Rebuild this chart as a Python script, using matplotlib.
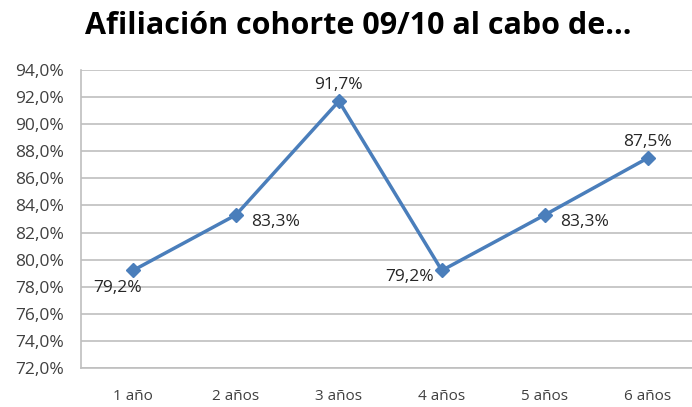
import matplotlib
matplotlib.use("Agg")
import matplotlib.pyplot as plt
from matplotlib.ticker import FuncFormatter

categories = ["1 año", "2 años", "3 años", "4 años", "5 años", "6 años"]
values = [79.2, 83.3, 91.7, 79.2, 83.3, 87.5]
yticks = [72, 74, 76, 78, 80, 82, 84, 86, 88, 90, 92, 94]
label_pos = ["below_left", "right", "above", "left", "right", "above"]

plt.rcParams['font.family'] = ['Open Sans', 'DejaVu Sans']

fig = plt.figure(figsize=(6.92, 4.07), dpi=100)
ax = fig.add_axes([81/692, 1-368/407, 1-81/692, (368-70)/407])

x = list(range(len(categories)))
ax.plot(x, values, color="#4A7EBB", lw=2.5, marker="D", markersize=7.5, zorder=3)

fs = 12.5
for xi, v, p in zip(x, values, label_pos):
    txt = f"{v:.1f}%".replace(".", ",")
    if p == "above":
        ax.annotate(txt, (xi, v), xytext=(0, 6), textcoords="offset points", ha="center", va="bottom", fontsize=fs, color="#262626")
    elif p == "right":
        ax.annotate(txt, (xi, v), xytext=(11, -5), textcoords="offset points", ha="left", va="center", fontsize=fs, color="#262626")
    elif p == "left":
        ax.annotate(txt, (xi, v), xytext=(-6, -5), textcoords="offset points", ha="right", va="center", fontsize=fs, color="#262626")
    else:
        ax.annotate(txt, (xi, v), xytext=(-11, -7), textcoords="offset points", ha="center", va="top", fontsize=fs, color="#262626")

ax.set_ylim(72, 94)
ax.set_yticks(yticks)
ax.yaxis.set_major_formatter(FuncFormatter(lambda v, _: f"{v:.1f}%".replace(".", ",")))
ax.set_xlim(-0.505, 5.43)
ax.set_xticks(x)
ax.set_xticklabels(categories)
ax.tick_params(axis="both", length=0, labelsize=12.5, labelcolor="#404040")
ax.tick_params(axis="x", labelsize=11, pad=15)
ax.tick_params(axis="y", pad=12)
ax.grid(axis="y", color="#BFBFBF", lw=1.2)
ax.set_axisbelow(True)
for s in ["top", "right"]:
    ax.spines[s].set_visible(False)
for s in ["left", "bottom"]:
    ax.spines[s].set_color("#BFBFBF")
    ax.spines[s].set_linewidth(1.2)

fig.text(358/692, 0.935, "Afiliación cohorte 09/10 al cabo de...", ha="center", va="center",
         fontsize=22, fontweight="bold", color="#000000")

fig.savefig("out.png", dpi=100)
